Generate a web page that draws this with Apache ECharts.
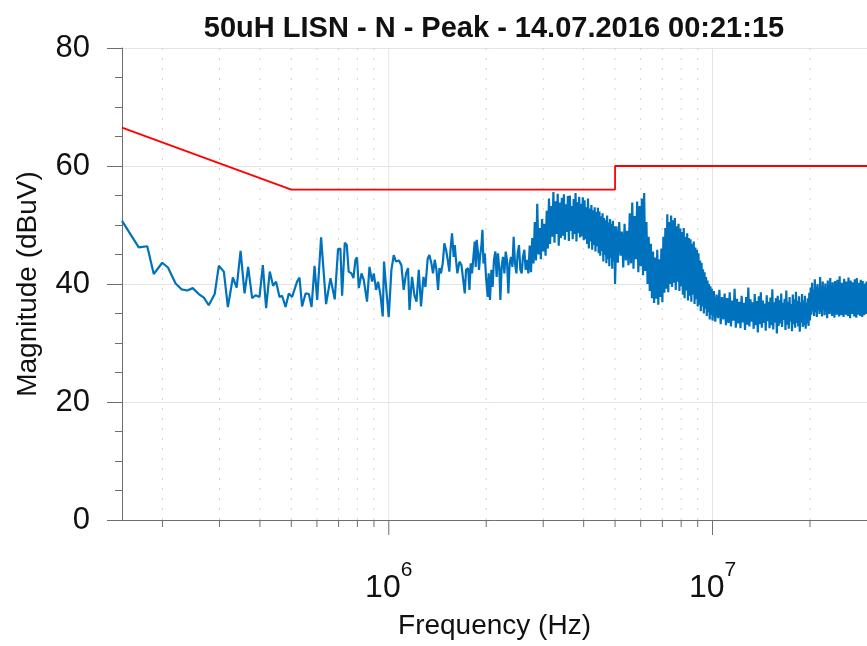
<!DOCTYPE html>
<html><head><meta charset="utf-8">
<script src="https://cdn.jsdelivr.net/npm/echarts@6/dist/echarts.min.js"></script>
<style>html,body{margin:0;padding:0;background:#fff}#c{width:867px;height:646px}</style>
</head><body><div id="c"></div>
<script>
// ---------- texts ----------
const titleText = '50uH LISN - N - Peak - 14.07.2016 00:21:15';
const xAxisName = 'Frequency (Hz)';
const yAxisName = 'Magnitude (dBuV)';

// ---------- axes ----------
const yMin = 0, yMax = 80, yStep = 20;
const xMinHz = 150000, xMaxHz = 30000000;
const xDecadeTicksHz = [1e6, 1e7];
const xMinorTicksHz = [2e5,3e5,4e5,5e5,6e5,7e5,8e5,9e5,2e6,3e6,4e6,5e6,6e6,7e6,8e6,9e6,2e7];

// ---------- limit line (dBuV) ----------
const limitFreqMHz = [0.15, 0.5, 5, 5, 30];
const limitLevel   = [66.5, 56, 56, 60, 60];

// ---------- measured peak trace, sweep part 1 (0.15 - 0.75 MHz) ----------
const sweep1FreqMHz = [
0.150,0.169,0.1795,0.188,0.1997,0.208,0.2196,0.229,0.2385,0.248,
0.259,0.2685,0.278,0.290,0.2987,0.3095,0.3185,0.330,0.339,0.3486,
0.3586,0.3679,0.3785,0.3878,0.3989,0.4084,0.418,0.429,0.4393,0.4488,
0.4598,0.4684,0.480,0.4913,0.5029,0.521,0.530,0.5399,0.5534,0.5666,
0.5775,0.590,0.601,0.618,0.6403,0.6607,0.681,0.6973,0.709,0.7177,
0.7315,0.742];
const sweep1Peak = [
50.7,46.2,46.4,41.7,43.6,42.8,40.1,39.1,38.9,39.3,
38.3,37.7,36.4,38.3,43.1,42.1,36.1,41.1,39.4,45.6,
38.4,42.9,37.6,38.1,37.8,43.2,35.9,42.1,39.7,40.4,
37.8,38.0,36.1,38.4,37.8,40.4,41.1,36.2,38.4,38.3,
36.1,43.1,37.3,47.9,36.6,41.0,37.4,45.9,46.0,38.0,
47.0,46.6];

// ---------- sweep part 2 (0.75 - 2.7 MHz) ----------
const sweep2FreqMHz = [
0.752,0.767,0.778,0.789,0.798,0.808,0.824,0.837,0.857,0.872,
0.888,0.899,0.914,0.927,0.943,0.958,0.967,0.981,1.000,1.019,
1.036,1.053,1.074,1.094,1.112,1.131,1.147,1.159,1.180,1.200,
1.218,1.238,1.258,1.280,1.298,1.319,1.335,1.354,1.370,1.387,
1.404,1.420,1.434,1.450,1.468,1.485,1.503,1.521,1.539,1.550,
1.568,1.587,1.599,1.613,1.629,1.653,1.677,1.696,1.717,1.733,
1.758,1.775,1.791,1.808,1.826,1.843,1.856,1.869,1.887,1.900,
1.914,1.933,1.947,1.961,1.979,1.997,2.021,2.035,2.054,2.075,
2.094,2.113,2.134,2.154,2.174,2.196,2.212,2.232,2.253,2.276,
2.297,2.318,2.341,2.363,2.385,2.409,2.431,2.454,2.479,2.501,
2.525,2.550,2.574,2.597,2.623,2.647,2.672,2.699];
const sweep2Peak = [
42.1,41.8,41.0,44.1,44.5,39.3,41.8,40.7,37.0,42.9,
40.4,41.8,39.0,40.4,38.1,34.5,43.8,39.5,34.4,42.4,
44.9,43.8,44.0,43.2,39.0,41.8,42.7,35.6,41.2,38.1,
37.0,42.4,36.2,41.2,39.5,44.3,44.9,43.5,41.8,44.1,
42.4,39.0,42.7,41.8,43.5,46.9,45.8,44.1,42.1,45.5,
48.6,44.6,46.6,44.1,41.8,43.8,43.2,43.5,38.4,42.4,
42.7,39.0,43.5,41.8,44.6,47.2,42.9,47.5,45.2,42.4,
44.6,46.6,49.2,43.5,45.2,41.2,37.8,41.8,37.3,42.4,
39.5,44.1,45.5,41.2,45.2,42.4,37.3,42.9,44.6,41.8,
45.5,44.1,38.4,43.5,44.6,42.9,48.0,43.5,41.8,45.2,
46.6,42.4,41.8,44.6,45.8,42.4,44.1,41.8];

// ---------- sweep part 3 (2.7 - 5 MHz) ----------
const sweep3FreqMHz = [
2.725,2.75,2.775,2.8,2.825,2.85,2.875,2.9,2.925,2.95,
2.975,3.0,3.025,3.05,3.075,3.1,3.125,3.15,3.175,3.2,
3.225,3.25,3.275,3.3,3.325,3.35,3.375,3.4,3.425,3.45,
3.475,3.5,3.525,3.55,3.575,3.6,3.625,3.65,3.675,3.7,
3.725,3.75,3.775,3.8,3.825,3.85,3.875,3.9,3.925,3.95,
3.975,4.0,4.025,4.05,4.075,4.1,4.125,4.15,4.175,4.2,
4.225,4.25,4.275,4.3,4.325,4.35,4.375,4.4,4.425,4.45,
4.475,4.5,4.525,4.55,4.575,4.6,4.625,4.65,4.675,4.7,
4.725,4.75,4.775,4.8,4.825,4.85,4.875,4.9,4.925,4.95,
4.975,5.0];
const sweep3Peak = [
46.5,42.0,47.8,43.5,50.5,44.0,53.6,45.0,49.5,44.2,
51.0,45.5,50.2,44.8,52.4,46.0,54.5,46.8,53.2,48.0,
55.6,47.0,54.0,48.5,55.3,46.5,53.8,47.8,54.6,48.2,
55.2,47.5,53.5,48.8,54.9,47.3,55.0,49.0,53.2,47.6,
54.4,48.5,55.4,47.2,53.9,48.6,54.8,47.9,53.6,48.1,
54.7,47.4,54.2,47.6,53.0,46.8,54.5,46.0,52.8,47.2,
53.4,45.8,52.5,46.6,53.0,45.5,52.2,46.4,52.9,45.2,
52.3,44.8,51.5,45.6,52.0,43.8,51.2,44.9,50.8,43.5,
51.6,44.2,50.4,43.0,51.0,44.4,50.2,42.6,50.7,43.8,
49.8,40.0];

// ---------- sweep part 4 (5 - 10 MHz) ----------
const sweep4FreqMHz = [
5.05,5.1,5.15,5.2,5.25,5.3,5.35,5.4,5.45,5.5,
5.55,5.6,5.65,5.7,5.75,5.8,5.85,5.9,5.95,6.0,
6.05,6.1,6.15,6.2,6.25,6.3,6.35,6.4,6.45,6.5,
6.55,6.6,6.65,6.7,6.75,6.8,6.85,6.9,6.95,7.0,
7.05,7.1,7.15,7.2,7.25,7.3,7.35,7.4,7.45,7.5,
7.55,7.6,7.65,7.7,7.75,7.8,7.85,7.9,7.95,8.0,
8.05,8.1,8.15,8.2,8.25,8.3,8.35,8.4,8.45,8.5,
8.55,8.6,8.65,8.7,8.75,8.8,8.85,8.9,8.95,9.0,
9.05,9.1,9.15,9.2,9.25,9.3,9.35,9.4,9.45,9.5,
9.55,9.6,9.65,9.7,9.75,9.8,9.85,9.9,9.95,10.0];
const sweep4Peak = [
49.8,43.6,50.5,44.8,48.9,42.8,50.2,44.0,49.0,43.2,
52.0,43.5,53.8,42.6,51.5,44.2,54.0,42.0,53.2,43.0,
54.5,41.5,55.4,42.2,50.5,40.0,48.0,38.8,46.8,37.6,
45.5,36.8,44.5,37.5,45.8,36.5,44.2,37.8,46.0,36.9,
48.0,38.5,49.5,39.2,51.8,38.6,50.5,40.0,51.6,39.5,
50.8,40.2,51.2,39.0,49.8,40.4,50.2,38.8,49.4,39.6,
48.8,38.2,49.5,37.6,48.0,38.9,48.6,37.2,47.8,38.0,
47.6,37.0,46.8,38.2,47.2,36.6,46.2,37.4,45.8,36.2,
45.2,36.5,44.0,35.4,43.6,36.2,42.5,35.0,42.0,35.8,
41.2,34.6,40.6,35.2,40.0,34.0,39.6,34.8,39.2,33.8];

// ---------- sweep part 5 (10 - 30 MHz) ----------
const sweep5FreqMHz = [
10.1,10.2,10.3,10.4,10.5,10.6,10.7,10.8,10.9,11.0,
11.1,11.2,11.3,11.4,11.5,11.6,11.7,11.8,11.9,12.0,
12.1,12.2,12.3,12.4,12.5,12.6,12.7,12.8,12.9,13.0,
13.1,13.2,13.3,13.4,13.5,13.6,13.7,13.8,13.9,14.0,
14.1,14.2,14.3,14.4,14.5,14.6,14.7,14.8,14.9,15.0,
15.1,15.2,15.3,15.4,15.5,15.6,15.7,15.8,15.9,16.0,
16.1,16.2,16.3,16.4,16.5,16.6,16.7,16.8,16.9,17.0,
17.1,17.2,17.3,17.4,17.5,17.6,17.7,17.8,17.9,18.0,
18.1,18.2,18.3,18.4,18.5,18.6,18.7,18.8,18.9,19.0,
19.1,19.2,19.3,19.4,19.5,19.6,19.7,19.8,19.9,20.0,
20.1,20.2,20.3,20.4,20.5,20.6,20.7,20.8,20.9,21.0,
21.1,21.2,21.3,21.4,21.5,21.6,21.7,21.8,21.9,22.0,
22.1,22.2,22.3,22.4,22.5,22.6,22.7,22.8,22.9,23.0,
23.1,23.2,23.3,23.4,23.5,23.6,23.7,23.8,23.9,24.0,
24.1,24.2,24.3,24.4,24.5,24.6,24.7,24.8,24.9,25.0,
25.1,25.2,25.3,25.4,25.5,25.6,25.7,25.8,25.9,26.0,
26.1,26.2,26.3,26.4,26.5,26.6,26.7,26.8,26.9,27.0,
27.1,27.2,27.3,27.4,27.5,27.6,27.7,27.8,27.9,28.0,
28.1,28.2,28.3,28.4,28.5,28.6,28.7,28.8,28.9,29.0,
29.1,29.2,29.3,29.4,29.5,29.6,29.7,29.8,29.9,30.0];
const sweep5Peak = [
38.8,33.6,38.2,34.2,39.0,33.2,37.8,34.0,38.4,33.0,
37.6,33.4,38.6,32.8,37.2,33.8,39.2,32.6,37.5,33.3,
37.0,32.5,38.0,33.5,36.8,32.2,37.8,33.1,39.4,32.8,
37.4,33.6,36.9,32.4,38.3,33.0,37.1,31.8,37.9,33.2,
38.6,32.6,37.2,33.4,36.7,32.1,38.1,33.7,37.0,32.5,
37.7,33.0,39.1,32.3,36.9,33.5,37.6,31.6,38.0,32.9,
37.3,33.3,38.4,32.7,36.8,33.9,37.5,32.2,38.9,33.1,
37.0,32.4,37.8,33.6,36.6,32.0,38.2,33.2,37.4,32.6,
38.7,33.4,37.1,32.8,37.9,31.9,36.9,33.5,38.3,32.7,
37.2,33.0,38.0,32.4,36.8,33.3,37.6,32.9,38.5,33.8,
39.4,34.8,40.2,35.4,39.0,34.6,40.8,35.2,39.6,34.4,
40.0,35.6,39.2,34.9,41.2,35.3,39.7,34.5,40.4,35.8,
39.5,34.7,40.1,35.5,39.3,34.2,40.6,35.0,39.8,34.9,
41.0,35.4,39.4,34.6,40.3,35.7,39.1,34.3,40.5,35.1,
39.9,34.8,40.7,35.6,39.2,34.5,41.3,35.2,39.6,34.7,
40.2,35.9,39.5,34.4,40.9,35.3,39.0,34.8,40.4,35.5,
39.7,34.6,41.1,35.0,39.4,34.2,40.6,35.7,39.8,34.9,
40.3,35.4,39.2,34.5,40.8,35.1,39.6,34.3,41.0,35.6,
39.5,34.8,40.2,35.3,39.1,34.6,40.7,35.0,39.9,34.4,
40.5,35.5,39.3,34.7,40.1,35.2,39.7,34.9,40.4,35.3];

// ---------- build series tables ----------
const MHz = 1e6;
function pairs(freqs, vals) { return freqs.map((f, i) => [f * MHz, vals[i]]); }
const traceData = [].concat(
  pairs(sweep1FreqMHz, sweep1Peak),
  pairs(sweep2FreqMHz, sweep2Peak),
  pairs(sweep3FreqMHz, sweep3Peak),
  pairs(sweep4FreqMHz, sweep4Peak),
  pairs(sweep5FreqMHz, sweep5Peak));
const limitData = pairs(limitFreqMHz, limitLevel);
const xTickData = [].concat(
  xDecadeTicksHz.map(f => [f, 1]),
  xMinorTicksHz.map(f => [f, 0]));

const FONT = '"Liberation Sans", Arial, Helvetica, sans-serif';
const AXIS_COLOR = '#6e6e6e';

function renderXTicks(params, api) {
  const f = api.value(0);
  const major = api.value(1) === 1;
  const base = api.coord([f, yMin]);
  const top = api.coord([f, yMax]);
  return {
    type: 'group',
    children: [
      { type: 'line', shape: { x1: base[0], y1: base[1], x2: top[0], y2: top[1] },
        style: major ? { stroke: '#e4e4e4', lineWidth: 1 }
                     : { stroke: '#d2d2d2', lineWidth: 1, lineDash: [2, 8] } },
      { type: 'line', shape: { x1: base[0], y1: base[1], x2: base[0], y2: base[1] + (major ? 15 : 7) },
        style: { stroke: AXIS_COLOR, lineWidth: 1 } }
    ]
  };
}

const chart = echarts.init(document.getElementById('c'), null, { renderer: 'canvas' });
chart.setOption({
  animation: false,
  backgroundColor: '#ffffff',
  title: {
    text: titleText, left: 494, top: 14, textAlign: 'center', padding: 0,
    textStyle: { fontFamily: FONT, fontSize: 29, fontWeight: 'bold', color: '#111' }
  },
  grid: { left: 122, top: 48, right: -1, bottom: 126, containLabel: false },
  xAxis: {
    type: 'log', logBase: 10, min: xMinHz, max: xMaxHz,
    name: xAxisName, nameLocation: 'middle', nameGap: 92,
    nameTextStyle: { fontFamily: FONT, fontSize: 28, color: '#111' },
    axisLine: { show: true, lineStyle: { color: AXIS_COLOR, width: 1 } },
    axisTick: { show: false },
    splitLine: { show: false },
    minorTick: { show: false },
    axisLabel: {
      customValues: xDecadeTicksHz,
      margin: 40,
      formatter: v => '{b|10}{s|' + Math.round(Math.log10(v)) + '}',
      rich: {
        b: { fontFamily: FONT, fontSize: 32, lineHeight: 44, verticalAlign: 'bottom', color: '#111' },
        s: { fontFamily: FONT, fontSize: 21, lineHeight: 21, verticalAlign: 'top', color: '#111' }
      }
    }
  },
  yAxis: {
    type: 'value', min: yMin, max: yMax, interval: yStep,
    name: yAxisName, nameLocation: 'middle', nameGap: 80, nameRotate: 90,
    nameTextStyle: { fontFamily: FONT, fontSize: 28, color: '#111' },
    axisLine: { show: true, lineStyle: { color: AXIS_COLOR, width: 1 } },
    axisTick: { show: true, inside: false, length: 15, lineStyle: { color: AXIS_COLOR } },
    minorTick: { show: true, splitNumber: 4, length: 7, lineStyle: { color: AXIS_COLOR } },
    splitLine: { show: true, lineStyle: { color: '#e4e4e4', width: 1 } },
    minorSplitLine: { show: false },
    axisLabel: { fontFamily: FONT, fontSize: 31, color: '#111', margin: 32 }
  },
  series: [
    {
      type: 'custom', name: 'xticks', coordinateSystem: 'cartesian2d',
      renderItem: renderXTicks, data: xTickData, clip: false, silent: true, z: 1
    },
    {
      type: 'line', name: 'peak', data: traceData, showSymbol: false, symbol: 'none',
      sampling: null, lineStyle: { color: '#0072BD', width: 2.2 }, z: 3, silent: true
    },
    {
      type: 'line', name: 'limit', data: limitData, showSymbol: false, symbol: 'none',
      lineStyle: { color: '#FF0000', width: 1.8 }, z: 4, silent: true
    }
  ]
});
</script>
</body></html>
